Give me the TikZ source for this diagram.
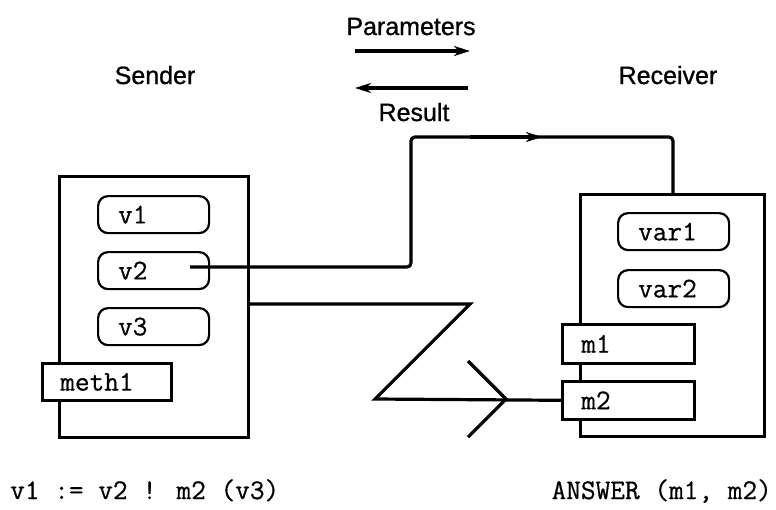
\documentclass[tikz,border=0pt]{standalone}
\usepackage{fontspec}
\setmainfont{Liberation Sans}
\newfontfamily\lblfont{Liberation Sans}[FakeBold=0.9]
\newfontfamily\codefont{Latin Modern Mono}[FakeBold=0.6]
\usetikzlibrary{arrows.meta}
\tikzset{
  lbl/.style={font=\lblfont\fontsize{25}{30}\selectfont, inner sep=0pt, anchor=base},
  code/.style={font=\codefont\fontsize{28.5}{32}\selectfont, inner sep=0pt, anchor=base west},
  objbox/.style={draw, line width=3.2pt, fill=white},
  varbox/.style={draw, line width=2.2pt, rounded corners=10pt, fill=white,
    font=\codefont\fontsize{28.5}{32}\selectfont, align=left,
    minimum width=111pt, minimum height=37pt, text width=71pt, inner xsep=20pt, inner ysep=0pt, anchor=north west},
  methbox/.style={draw, line width=2.6pt, fill=white,
    font=\codefont\fontsize{28.5}{32}\selectfont, align=left, inner ysep=0pt, anchor=north west},
  conn/.style={line width=3.2pt},
  arr/.style={line width=3.2pt, -{Stealth[length=16pt, width=10pt, inset=5pt]}},
}
\begin{document}
\begin{tikzpicture}[x=1pt, y=-1pt]
\useasboundingbox (0,0) rectangle (776,509);

% headings
\node[lbl] (param) at (411,35) {Parameters};
\node[lbl] (result) at (414,121) {Result};
\node[lbl] (sender) at (155,84) {Sender};
\node[lbl] (receiver) at (668,84) {Receiver};
\coordinate (pa) at (355,51);
\coordinate (pb) at (470,51);
\coordinate (ra) at (468,88);
\coordinate (rb) at (355,88);
\draw[arr] (pa) -- (pb);
\draw[arr] (ra) -- (rb);

% sender object
\node[objbox, minimum width=189pt, minimum height=261pt, anchor=north west] (snd) at (58,175) {};
\node[varbox] (v1) at (97,195) {v1};
\node[varbox] (v2) at (97,251) {v2};
\node[varbox] (v3) at (97,307) {v3};
\node[methbox, minimum width=129pt, minimum height=37pt, text width=93pt, inner xsep=18pt] (meth1) at (41,362) {meth1};

% receiver object
\node[objbox, minimum width=184pt, minimum height=242pt, anchor=north west] (rcv) at (579,193) {};
\node[varbox] (var1) at (617,212) {var1};
\node[varbox] (var2) at (617,269) {var2};
\node[methbox, minimum width=132pt, minimum height=39pt, text width=94pt, inner xsep=19pt] (m1) at (561,323) {m1};
\node[methbox, minimum width=132pt, minimum height=38pt, text width=94pt, inner xsep=19pt] (m2) at (561,380) {m2};

% route from v2 to receiver
\coordinate (v2in) at (190,267);
\coordinate (c1) at (411,267);
\coordinate (c2) at (411,137);
\coordinate (c3) at (673,137);
\coordinate (am) at (470,137);
\coordinate (at) at (542,137);
\draw[conn, rounded corners=4pt] (v2in) -- (c1) -- (c2) -- (c3) -- (c3 |- rcv.north);
\draw[arr] (am) -- (at);

% message zigzag
\coordinate (z1) at (470,304);
\coordinate (z2) at (375,399);
\coordinate (h1) at (468,361);
\coordinate (h2) at (506,399);
\coordinate (h3) at (468,437);
\draw[conn] (snd.east |- 0,304) -- (z1) -- (z2) -- (m2.west);
\draw[conn] (h1) -- (h2) -- (h3);

% code lines
\node[code] (send) at (10,499) {v1 := v2 ! m2 (v3)};
\node[code, anchor=base east] (answer) at (772,499) {ANSWER (m1, m2)};
\end{tikzpicture}
\end{document}
